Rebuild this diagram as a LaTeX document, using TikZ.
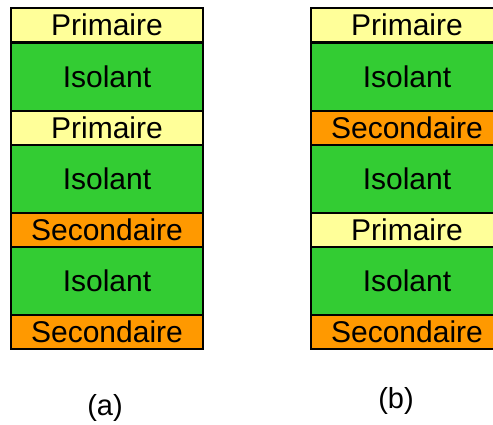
\documentclass[tikz,border=0pt]{standalone}
\usepackage{fontspec}
\setmainfont{Liberation Sans}
\definecolor{prim}{HTML}{FFFF99}
\definecolor{iso}{HTML}{33CC33}
\definecolor{sec}{HTML}{FF9900}
\begin{document}
\begin{tikzpicture}[x=1pt,y=-1pt,
  layer/.style={draw=black, line width=2.4pt, rectangle, inner sep=0pt,
    minimum width=192pt, font=\fontsize{30}{32}\selectfont},
  thinlayer/.style={layer, minimum height=34pt},
  thicklayer/.style={layer, minimum height=68.5pt},
  primbox/.style={thinlayer, fill=prim},
  secbox/.style={thinlayer, fill=sec},
  isobox/.style={thicklayer, fill=iso},
  captxt/.style={font=\fontsize{29}{31}\selectfont}]
\useasboundingbox (0,0) rectangle (493,424);
\clip (0,0) rectangle (493,424);
% column (a)
\node[primbox] (a1) at (107,25.25) {Primaire};
\node[isobox]  (a2) at (107,76.75) {Isolant};
\node[primbox] (a3) at (107,128) {Primaire};
\node[isobox]  (a4) at (107,179.25) {Isolant};
\node[secbox]  (a5) at (107,230.25) {Secondaire};
\node[isobox]  (a6) at (107,281) {Isolant};
\node[secbox]  (a7) at (107,331.75) {Secondaire};
% column (b)
\node[primbox] (b1) at (407,25.25) {Primaire};
\node[isobox]  (b2) at (407,76.75) {Isolant};
\node[secbox]  (b3) at (407,128) {Secondaire};
\node[isobox]  (b4) at (407,179.25) {Isolant};
\node[primbox] (b5) at (407,230.25) {Primaire};
\node[isobox]  (b6) at (407,281) {Isolant};
\node[secbox]  (b7) at (407,331.75) {Secondaire};
% captions
\node[captxt] (la) at (105,408) {(a)};
\node[captxt] (lb) at (396,401) {(b)};
\end{tikzpicture}
\end{document}
